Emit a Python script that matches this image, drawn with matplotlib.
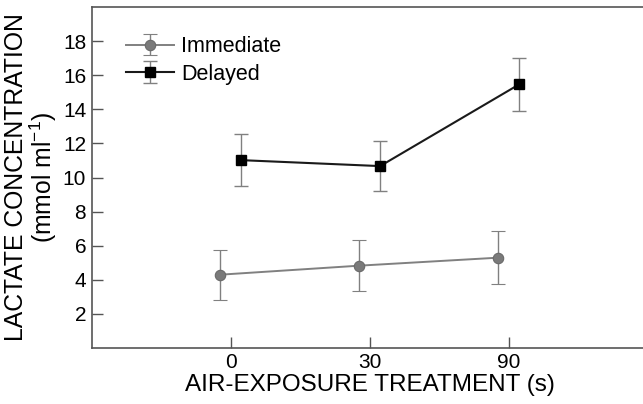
import numpy as np
import matplotlib.pyplot as plt

plt.rcParams['font.family'] = ['Liberation Sans', 'DejaVu Sans']
plt.rcParams['mathtext.fontset'] = 'custom'
plt.rcParams['mathtext.rm'] = 'Liberation Sans'
plt.rcParams['mathtext.it'] = 'Liberation Sans:italic'

# air-exposure treatment (s)
treatments = ['0', '30', '90']

# lactate concentration (mmol ml-1), mean and error
immediate = [4.29, 4.82, 5.29]
immediate_err = [1.46, 1.48, 1.54]
delayed = [11.02, 10.67, 15.47]
delayed_err = [1.51, 1.48, 1.57]

W, H = 643, 404
fig = plt.figure(figsize=(W / 100, H / 100), dpi=100)
ax = fig.add_axes([91.7 / W, 56.3 / H, 556 / W, 340.4 / H])

xpos = np.arange(len(treatments))
off = 0.075
ecol = '#808080'

ax.errorbar(xpos - off, immediate, yerr=immediate_err, color='#808080', lw=1.4,
            marker='o', ms=7.5, mfc='#7a7a7a', mec='#6a6a6a', mew=0.8,
            ecolor=ecol, elinewidth=1.0, capsize=5, capthick=1.0,
            label='Immediate')
ax.errorbar(xpos + off, delayed, yerr=delayed_err, color='#1a1a1a', lw=1.5,
            marker='s', ms=7, mfc='black', mec='black',
            ecolor=ecol, elinewidth=1.0, capsize=5, capthick=1.0,
            label='Delayed')

ax.set_xlim(-1, 3)
ax.set_ylim(0, 20)
ax.set_xticks(xpos)
ax.set_xticklabels(treatments)
ax.set_yticks(np.arange(2, 19, 2))

for s in ['top', 'bottom', 'left']:
    ax.spines[s].set_color('#555555')
    ax.spines[s].set_linewidth(1.2)
ax.spines['right'].set_visible(False)

ax.tick_params(direction='in', length=8, width=1.0, color='#555555',
               labelsize=15, labelcolor='black', pad=4)
ax.tick_params(axis='x', pad=4)

ax.set_xlabel('AIR-EXPOSURE TREATMENT (s)', fontsize=17.5, labelpad=1)
ax.set_ylabel('LACTATE CONCENTRATION\n(mmol ml$^{-1}$)', fontsize=17.8,
              linespacing=0.95, labelpad=3)

ax.legend(loc='upper left', bbox_to_anchor=(0.062, 0.915), frameon=False,
          fontsize=15.5, handlelength=2.2, handletextpad=0.35, borderpad=0,
          borderaxespad=0, labelspacing=0.3)

fig.savefig('out.png', dpi=100)
